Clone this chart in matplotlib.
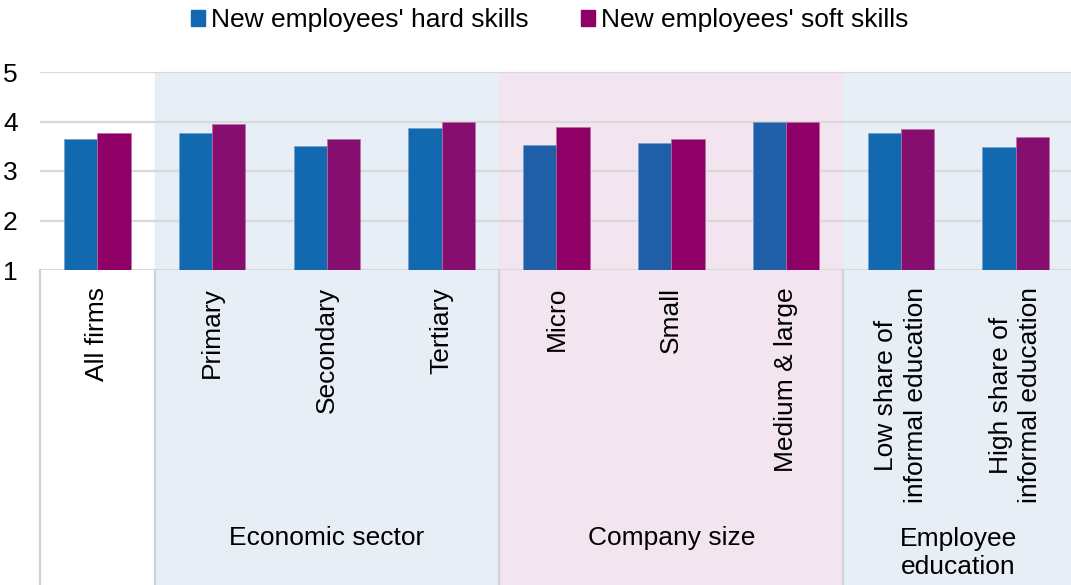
import matplotlib.pyplot as plt
import matplotlib.transforms as mtransforms
from matplotlib.lines import Line2D
from matplotlib.patches import Patch, Rectangle

plt.rcParams["font.family"] = ["Liberation Sans", "DejaVu Sans"]

categories = [
    "All firms", "Primary", "Secondary", "Tertiary",
    "Micro", "Small", "Medium & large",
    "Low share of\ninformal education", "High share of\ninformal education",
]
hard_skills = [3.64, 3.77, 3.51, 3.86, 3.53, 3.57, 3.99, 3.76, 3.49]
soft_skills = [3.77, 3.95, 3.65, 4.00, 3.89, 3.65, 3.99, 3.84, 3.69]

# group name, first and last category index, band colour
groups = [
    ("Economic sector", 1, 3, "#E7EEF6"),
    ("Company size", 4, 6, "#F3E5F0"),
    ("Employee\neducation", 7, 8, "#E7EEF6"),
]
hard_colors = ["#1369AF"] * 4 + ["#1F5FA8"] * 3 + ["#1369AF"] * 2
soft_colors = ["#8E0066"] + ["#860E6E"] * 3 + ["#8E0066"] * 3 + ["#860E6E"] * 2

W, H = 1071, 585
fig = plt.figure(figsize=(W / 100, H / 100), dpi=100)
ax_left, ax_bottom, ax_top = 40 / W, (H - 270) / H, (H - 72) / H
ax = fig.add_axes([ax_left, ax_bottom, (1073 - 40) / W, ax_top - ax_bottom])
ax.patch.set_visible(False)

x = list(range(len(categories)))
bw = 0.29
ax.bar([i - bw / 2 for i in x], [v - 1 for v in hard_skills], bw, bottom=1,
       color=hard_colors, edgecolor="#6E9FD0", linewidth=0.5, zorder=3)
ax.bar([i + bw / 2 for i in x], [v - 1 for v in soft_skills], bw, bottom=1,
       color=soft_colors, edgecolor="#B86FA8", linewidth=0.5, zorder=3)

ax.set_xlim(-0.5, 8.5)
ax.set_ylim(1, 5)
ax.set_yticks([1, 2, 3, 4, 5])
ax.set_xticks([])
ax.tick_params(axis="y", length=0, pad=16, labelsize=19)
for s in ax.spines.values():
    s.set_visible(False)
ax.grid(axis="y", color="#D9D9D9", linewidth=1.6, zorder=1)
ax.set_axisbelow(True)

trans = mtransforms.blended_transform_factory(ax.transData, fig.transFigure)

# group background bands, running from the top gridline to the bottom edge
for name, first, last, color in groups:
    ax.add_patch(Rectangle((first - 0.5, 0), last - first + 1, ax_top,
                           transform=trans, color=color, zorder=0, clip_on=False))
    ax.text((first + last) / 2, 0.08 if "\n" not in name else 0.055, name,
            transform=trans, ha="center", va="center", fontsize=19,
            linespacing=1.2)

# table separators below the axis
for xs in [-0.5, 0.5, 3.5, 6.5]:
    ax.add_line(Line2D([xs, xs], [0, ax_bottom], transform=trans,
                       color="#D2D2D8", linewidth=1.6, clip_on=False, zorder=1))

for i, label in enumerate(categories):
    ax.text(i, (H - 287) / H, label, transform=trans, rotation=90,
            ha="center", va="top", fontsize=19, linespacing=1.3)

handles = [Patch(color="#1369AF"), Patch(color="#8E0066")]
fig.legend(handles, ["New employees' hard skills", "New employees' soft skills"],
           loc="center", bbox_to_anchor=(0.513, 1 - 20 / H), ncol=2,
           frameon=False, fontsize=19, handlelength=0.55, handleheight=0.55,
           handletextpad=0.2, columnspacing=2.0)

fig.savefig("out.png", dpi=100)
plt.close(fig)
